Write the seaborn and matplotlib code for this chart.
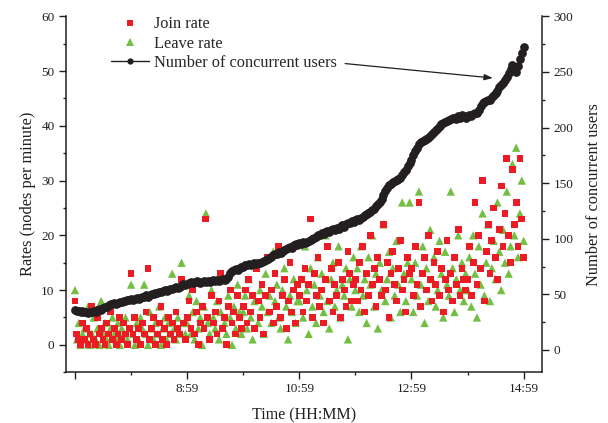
import numpy as np
import pandas as pd
import matplotlib
matplotlib.use("Agg")
import matplotlib.pyplot as plt
import seaborn as sns
from matplotlib.lines import Line2D
from matplotlib.ticker import MultipleLocator

# ---------------- data (one sample every 2 minutes from 6:59 to 14:59) ----------------
minutes = list(range(0, 481, 2))   # minutes after 6:59

join_rate = [
    8, 2, 1, 0, 4, 1, 3, 0, 2, 7, 1, 0, 5, 2, 3, 1, 0, 4, 2, 6, 1, 3, 0, 2, 5, 1, 4, 2, 0, 3,
    13, 2, 5, 1, 3, 0, 4, 2, 6, 14, 1, 3, 5, 0, 2, 4, 7, 1, 3, 0, 5, 2, 4, 1, 6, 3, 2, 12, 4, 1,
    5, 8, 3, 10, 2, 6, 0, 4, 7, 3, 23, 5, 1, 9, 4, 6, 2, 8, 13, 3, 5, 0, 7, 10, 4, 6, 2, 9, 5, 3,
    7, 10, 4, 12, 6, 9, 3, 14, 8, 5, 11, 2, 9, 16, 6, 10, 4, 13, 7, 18, 5, 9, 12, 3, 8, 15, 6, 10, 4, 11,
    9, 12, 6, 14, 8, 11, 23, 5, 13, 9, 16, 7, 10, 4, 12, 18, 8, 14, 6, 11, 9, 15, 5, 12, 10, 7, 17, 13, 8, 11,
    12, 8, 15, 10, 18, 6, 13, 9, 20, 11, 14, 7, 16, 12, 9, 22, 10, 15, 5, 13, 17, 11, 8, 14, 19, 10, 12, 6, 16, 13,
    14, 9, 18, 11, 26, 7, 13, 16, 10, 20, 12, 8, 15, 11, 17, 9, 14, 6, 12, 19, 10, 13, 8, 16, 11, 21, 9, 14, 12, 10,
    12, 18, 9, 15, 26, 11, 20, 14, 30, 8, 17, 22, 13, 19, 25, 16, 12, 21, 29, 18, 24, 34, 20, 15, 32, 22, 26, 18, 34, 23, 16,
]

leave_rate = [
    10, 1, 4, 0, 2, 3, 1, 7, 0, 2, 5, 1, 3, 0, 8, 2, 4, 1, 0, 3, 5, 2, 1, 4, 0, 3, 2, 5, 1, 3,
    11, 2, 0, 4, 1, 5, 3, 11, 2, 0, 6, 3, 1, 4, 2, 7, 0, 3, 5, 1, 4, 2, 13, 3, 1, 5, 2, 15, 4, 2,
    4, 9, 2, 6, 1, 8, 3, 5, 0, 7, 24, 4, 2, 10, 5, 3, 8, 1, 6, 12, 4, 2, 9, 5, 0, 7, 3, 11, 6, 2,
    6, 9, 3, 12, 5, 1, 8, 15, 4, 10, 7, 2, 13, 6, 9, 4, 17, 8, 11, 5, 3, 10, 14, 7, 1, 9, 6, 12, 4, 8,
    8, 12, 5, 18, 10, 2, 14, 7, 11, 4, 16, 9, 13, 6, 20, 8, 3, 12, 15, 7, 10, 18, 5, 11, 9, 14, 1, 12, 7, 16,
    10, 14, 6, 18, 9, 12, 4, 16, 11, 20, 7, 13, 3, 15, 10, 22, 8, 12, 17, 5, 14, 9, 19, 11, 6, 26, 13, 8, 15, 26,
    12, 6, 15, 9, 28, 11, 18, 4, 14, 8, 21, 12, 16, 7, 10, 19, 13, 5, 17, 11, 9, 28, 14, 6, 12, 20, 10, 15, 8, 13,
    10, 16, 7, 20, 13, 5, 18, 11, 24, 9, 15, 22, 8, 14, 19, 12, 26, 17, 10, 21, 15, 28, 13, 18, 33, 20, 36, 16, 24, 30, 19,
]

concurrent_users = [
    36, 35, 35, 34, 35, 34, 34, 33, 34, 34, 35, 34, 36, 37, 36, 38, 39, 39, 40, 41, 41, 42, 41, 42, 43, 43, 44, 44, 45, 45,
    46, 45, 46, 47, 46, 47, 48, 48, 49, 48, 49, 50, 50, 51, 51, 52, 52, 53, 54, 53, 54, 55, 55, 56, 57, 56, 57, 58, 59, 58,
    59, 60, 61, 60, 61, 62, 61, 60, 61, 62, 61, 62, 61, 62, 63, 62, 63, 62, 63, 64, 63, 64, 66, 69, 71, 72, 73, 72, 74, 75,
    75, 76, 76, 77, 76, 77, 78, 77, 78, 78, 79, 80, 81, 82, 83, 84, 85, 86, 86, 88, 87, 89, 90, 91, 92, 93, 92, 94, 95, 94,
    96, 95, 97, 96, 97, 98, 99, 100, 101, 102, 103, 103, 105, 104, 106, 107, 106, 108, 109, 108, 110, 109, 111, 112, 111, 113, 114, 114, 116, 115,
    117, 118, 117, 119, 120, 121, 122, 123, 124, 126, 127, 129, 131, 133, 136, 139, 143, 146, 148, 149, 151, 152, 153, 154, 155, 157, 160, 162, 165, 168,
    171, 175, 179, 182, 185, 187, 188, 189, 190, 191, 192, 194, 196, 198, 200, 201, 203, 204, 205, 206, 207, 208, 209, 209, 208, 210, 209, 211, 210, 209,
    210, 211, 210, 212, 213, 213, 216, 219, 222, 223, 224, 225, 225, 227, 229, 231, 233, 236, 238, 240, 243, 245, 249, 253, 256, 252, 250, 255, 262, 267, 272,
]

time_ticks = [0, 120, 240, 360, 480]
time_labels = ["", "8:59", "10:59", "12:59", "14:59"]

df = pd.DataFrame({"minute": minutes, "join": join_rate,
                   "leave": leave_rate, "users": concurrent_users})

# ---------------- style ----------------
sns.set_style("ticks")
plt.rcParams["font.family"] = ["Liberation Serif", "DejaVu Serif"]

RED = "#ed1c24"
GREEN = "#72bf44"
BLACK = "#231f20"

fig = plt.figure(figsize=(6.08, 4.23), dpi=100)
ax = fig.add_axes([0.108, 0.12, 0.784, 0.8415])
ax2 = ax.twinx()

sns.scatterplot(data=df, x="minute", y="join", ax=ax, marker="s", s=24,
                color=RED, edgecolor="none", linewidth=0, zorder=3, legend=False)
sns.scatterplot(data=df, x="minute", y="leave", ax=ax, marker="^", s=36,
                color=GREEN, edgecolor="none", linewidth=0, zorder=2, legend=False)
sns.lineplot(data=df, x="minute", y="users", ax=ax2, color=BLACK, linewidth=1.2,
             marker="o", markersize=6.3, markeredgewidth=0, markerfacecolor=BLACK,
             legend=False)

# axes limits and ticks
ax.set_xlim(-10, 500)
ax.set_ylim(-5, 60)
ax2.set_ylim(-20, 300)

ax.set_xticks(time_ticks)
ax.set_xticklabels(time_labels)
ax.xaxis.set_minor_locator(MultipleLocator(60))
ax.yaxis.set_major_locator(MultipleLocator(10))
ax.yaxis.set_minor_locator(MultipleLocator(5))
ax2.yaxis.set_major_locator(MultipleLocator(50))
ax2.yaxis.set_minor_locator(MultipleLocator(25))

for a in (ax, ax2):
    a.tick_params(which="major", direction="out", length=5, width=1.0,
                  labelsize=9.5, pad=3, colors="#231f20")
    a.tick_params(which="minor", direction="out", length=2.5, width=1.0,
                  colors="#231f20")
    for sp in a.spines.values():
        sp.set_linewidth(1.1)
        sp.set_color("#231f20")
ax.spines["top"].set_visible(False)
ax2.spines["top"].set_visible(False)
ax.spines["right"].set_visible(False)
ax2.spines["left"].set_visible(False)
ax2.spines["bottom"].set_visible(False)
ax2.spines["right"].set_visible(True)
ax.yaxis.set_ticks_position("left")
ax2.yaxis.set_ticks_position("right")
ax.xaxis.set_ticks_position("bottom")

ax.set_xlabel("Time (HH:MM)", fontsize=11.5, labelpad=9, color="#231f20")
ax.set_ylabel("Rates (nodes per minute)", fontsize=11.8, labelpad=4, color="#231f20")
ax2.set_ylabel("Number of concurrent users", fontsize=11.8, labelpad=9, color="#231f20")

# legend
handles = [
    Line2D([], [], linestyle="none", marker="s", markersize=4.5,
           markerfacecolor=RED, markeredgewidth=0),
    Line2D([], [], linestyle="none", marker="^", markersize=5.4,
           markerfacecolor=GREEN, markeredgewidth=0),
    Line2D([], [], color=BLACK, linewidth=1.0, marker="o", markersize=4.5,
           markerfacecolor=BLACK, markeredgewidth=0),
]
labels = ["Join rate", "Leave rate", "Number of concurrent users"]
leg = ax2.legend(handles, labels, loc="upper left", bbox_to_anchor=(0.095, 1.0),
                 frameon=False, fontsize=11.8, handlelength=2.3, handletextpad=0.3,
                 labelspacing=0.2, borderpad=0, borderaxespad=0)

# arrow from legend text to curve
ax2.annotate("", xy=(447, 244.5), xytext=(289, 257.5),
             arrowprops=dict(arrowstyle="-|>,head_length=0.5,head_width=0.18",
                             color=BLACK, lw=0.9, shrinkA=0, shrinkB=0))

fig.savefig("out.png", dpi=100)
